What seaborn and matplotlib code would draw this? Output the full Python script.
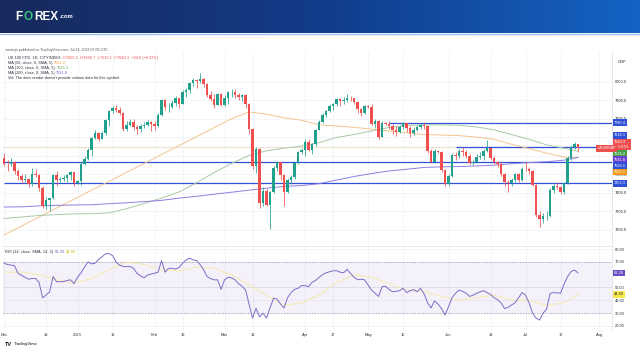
import numpy as np
import pandas as pd
import matplotlib
matplotlib.use("Agg")
import matplotlib.pyplot as plt
import matplotlib.transforms as mtransforms
from matplotlib.colors import LinearSegmentedColormap
import seaborn as sns

# ---- values: UK 100 CFD, daily candles ----
first_day = "2022-12-01"
skipped_days = ["2022-12-26", "2023-04-07", "2023-04-10"]

opens = [7590, 7558, 7556, 7567, 7521, 7489, 7472, 7476, 7446, 7503, 7495, 7426, 7332, 7361, 7370, 7497, 7469, 7473, 7480, 7497, 7512,
         7452, 7465, 7554, 7585, 7633, 7699, 7725, 7694, 7725, 7794, 7844, 7860, 7851, 7830, 7747, 7770, 7785, 7757, 7744, 7761, 7765, 7784,
         7771, 7761, 7820, 7902, 7864, 7865, 7885, 7911, 7882, 7947, 7954, 7997, 8012, 8004, 8014, 7990, 7930, 7907, 7878, 7935,
         7876, 7914, 7944, 7947, 7929, 7919, 7929, 7879, 7748, 7548, 7637, 7344, 7410, 7335, 7403, 7536, 7566, 7499, 7405, 7471, 7484, 7564, 7620,
         7632, 7673, 7634, 7663, 7742, 7786, 7824, 7843, 7871, 7879, 7909, 7898, 7902, 7914, 7912, 7891, 7852, 7831,
         7870, 7866, 7773, 7788, 7703, 7778, 7775, 7764, 7741, 7730, 7754, 7777, 7751, 7723, 7742, 7756, 7770, 7762, 7627, 7570, 7627, 7620, 7522,
         7446, 7490, 7607, 7600, 7628, 7624, 7599, 7562, 7570, 7594, 7602, 7628, 7642, 7588, 7569, 7559, 7502, 7461, 7453, 7470, 7500, 7472,
         7531, 7527, 7519, 7442, 7280, 7257, 7273, 7274, 7416, 7440, 7434, 7406, 7453, 7588, 7646, 7665.1]
highs = [7616, 7580, 7590, 7575, 7530, 7505, 7500, 7480, 7535, 7530, 7500, 7440, 7380, 7375, 7505, 7520, 7485, 7495, 7505, 7520, 7515,
         7470, 7565, 7600, 7645, 7705, 7740, 7730, 7735, 7800, 7850, 7870, 7875, 7865, 7835, 7790, 7800, 7800, 7765, 7775, 7785, 7795, 7790,
         7790, 7830, 7910, 7910, 7885, 7905, 7925, 7915, 7955, 7970, 8000, 8020, 8018, 8047, 8020, 7995, 7950, 7935, 7940, 7940,
         7930, 7950, 7960, 7960, 7940, 7935, 7935, 7885, 7750, 7650, 7645, 7430, 7420, 7410, 7545, 7575, 7570, 7505, 7480, 7495, 7570, 7625, 7645,
         7690, 7690, 7670, 7745, 7795, 7830, 7850, 7880, 7885, 7915, 7915, 7920, 7935, 7925, 7915, 7895, 7860, 7875,
         7875, 7880, 7800, 7795, 7790, 7785, 7790, 7775, 7760, 7765, 7785, 7780, 7760, 7755, 7770, 7780, 7785, 7765, 7640, 7640, 7632, 7625, 7530,
         7500, 7615, 7620, 7635, 7650, 7630, 7610, 7580, 7610, 7620, 7635, 7685, 7645, 7600, 7575, 7565, 7510, 7470, 7480, 7510, 7510, 7540,
         7565, 7540, 7525, 7450, 7300, 7290, 7300, 7425, 7450, 7460, 7440, 7460, 7600, 7660, 7675, 7666.7]
lows = [7545, 7520, 7545, 7505, 7470, 7455, 7460, 7430, 7440, 7485, 7410, 7320, 7315, 7300, 7365, 7440, 7455, 7465, 7460, 7470, 7440,
        7448, 7445, 7550, 7580, 7600, 7690, 7680, 7690, 7715, 7760, 7830, 7835, 7820, 7735, 7735, 7760, 7740, 7720, 7730, 7750, 7760, 7735,
        7740, 7755, 7815, 7850, 7835, 7860, 7870, 7860, 7880, 7920, 7940, 7980, 7970, 7995, 7975, 7920, 7895, 7860, 7875, 7870,
        7870, 7880, 7920, 7915, 7900, 7895, 7860, 7720, 7530, 7510, 7320, 7330, 7330, 7206, 7400, 7520, 7470, 7330, 7400, 7450, 7475, 7555, 7610,
        7600, 7625, 7610, 7655, 7740, 7780, 7810, 7835, 7850, 7870, 7870, 7880, 7890, 7895, 7880, 7830, 7815, 7825,
        7860, 7765, 7750, 7690, 7700, 7770, 7745, 7720, 7710, 7725, 7745, 7730, 7700, 7715, 7735, 7745, 7745, 7615, 7560, 7560, 7615, 7515, 7440,
        7435, 7485, 7580, 7590, 7600, 7590, 7555, 7550, 7560, 7585, 7580, 7620, 7580, 7555, 7540, 7490, 7440, 7405, 7440, 7460, 7460, 7465,
        7520, 7505, 7435, 7270, 7215, 7240, 7255, 7270, 7400, 7420, 7395, 7395, 7450, 7580, 7640, 7619.1]
closes = [7558, 7556, 7567, 7521, 7489, 7472, 7476, 7446, 7503, 7495, 7426, 7332, 7361, 7370, 7497, 7469, 7473, 7480, 7497, 7512, 7452,
          7465, 7554, 7585, 7633, 7699, 7725, 7694, 7725, 7794, 7844, 7860, 7851, 7830, 7747, 7770, 7785, 7757, 7744, 7761, 7765, 7784, 7771,
          7761, 7820, 7902, 7864, 7865, 7885, 7911, 7882, 7947, 7954, 7997, 8012, 8004, 8014, 7990, 7930, 7907, 7878, 7935, 7876,
          7914, 7944, 7947, 7929, 7919, 7929, 7879, 7748, 7548, 7637, 7344, 7410, 7335, 7403, 7536, 7566, 7499, 7405, 7471, 7484, 7564, 7620, 7632,
          7673, 7634, 7663, 7742, 7786, 7824, 7843, 7871, 7879, 7909, 7898, 7902, 7914, 7912, 7891, 7852, 7831, 7870,
          7866, 7773, 7788, 7703, 7778, 7775, 7764, 7741, 7730, 7754, 7777, 7751, 7723, 7742, 7756, 7770, 7762, 7627, 7570, 7627, 7620, 7522, 7446,
          7490, 7607, 7600, 7628, 7624, 7599, 7562, 7570, 7594, 7602, 7628, 7642, 7588, 7569, 7559, 7502, 7461, 7453, 7470, 7500, 7472, 7531,
          7527, 7519, 7442, 7280, 7257, 7273, 7274, 7416, 7440, 7434, 7406, 7453, 7588, 7646, 7664, 7640.3]

rsi = [69, 68, 67.5, 67, 61, 59.5, 58, 56.5, 57, 57, 54, 42, 44, 46.5, 58.5, 54.5, 54.5, 54.6, 55.5, 56, 53,
       58, 61.5, 66, 70, 68.5, 69, 72, 74, 76.5, 76.5, 75, 70, 67.5, 66.5, 66.3, 66.5, 65, 61, 59, 57.5, 59.8, 60.5,
       61.2, 62, 71, 62, 65, 65, 64.5, 65.5, 69, 71.5, 73, 71.6, 71.2, 68, 64, 58.5, 57, 56, 56, 48.6,
       56, 58, 57.5, 56, 53, 51, 48, 37, 26, 33.7, 27, 29.8, 26, 34, 41.5, 41, 37, 34, 42, 46, 48.5, 49.4, 51.5,
       51.5, 50.6, 54, 55.5, 58, 60, 61.5, 62.3, 63, 63.2, 62, 61.5, 64.2, 61, 58, 56, 56.5, 56,
       52, 48, 45.5, 43, 50.6, 51, 48.5, 46.7, 47, 47.5, 49.4, 46, 47.5, 48.3, 46.7, 49.4, 45, 38, 34, 39.5, 37, 33.5, 28.4,
       35, 42, 45.5, 48, 47, 45.5, 43, 44, 45.4, 46.5, 47.5, 46, 44.5, 42, 40.5, 38, 33.5, 34.5, 36.3, 38, 42, 46,
       44, 38, 30, 26, 24.5, 29.8, 33, 45.4, 46, 45.8, 45.5, 52.5, 58.5, 62.5, 63.7, 61.39]

# moving averages and the RSI average, read every fifth bar
ma_bars = list(range(0, 161, 5)) + [164]
ma50 = [7173, 7221, 7270, 7318, 7366, 7415, 7463, 7511, 7559, 7608, 7656, 7704, 7753, 7801, 7838, 7826, 7806,
        7793, 7768, 7762, 7755, 7745, 7735, 7725, 7716, 7713, 7710, 7702, 7690, 7663, 7640, 7615, 7594, 7592]
ma100 = [7262, 7270, 7278, 7283, 7287, 7288, 7292, 7315, 7343, 7372, 7405, 7455, 7510, 7560, 7603, 7628, 7642,
         7653, 7672, 7700, 7716, 7735, 7754, 7765, 7768, 7768, 7766, 7757, 7741, 7716, 7690, 7660, 7642, 7626]
ma200 = [7324, 7325, 7330, 7333, 7335, 7336, 7342, 7347, 7353, 7360, 7372, 7382, 7393, 7404, 7415, 7426, 7435,
         7440, 7450, 7470, 7489, 7505, 7519, 7528, 7538, 7541, 7543, 7546, 7550, 7558, 7564, 7569, 7577, 7592]
rsi_ma = [62, 62, 60, 56, 53.5, 57, 64, 70, 68, 64, 63, 66, 65, 60, 52, 44, 36,
          38, 44, 54, 60, 58, 53, 48, 47, 43, 40, 42, 44, 40, 40, 36, 38, 44.69]

# horizontal levels drawn on the chart
levels = [7780.4, 7648.1, 7566.5, 7452.3]
level_from = ["2023-05-09", "2023-06-05", "2022-12-01", "2022-12-01"]

tick_days = ["2022-12-01", "2022-12-19", "2023-01-02", "2023-01-16", "2023-02-01", "2023-02-13",
             "2023-03-01", "2023-03-13", "2023-04-03", "2023-04-17", "2023-05-01", "2023-05-15",
             "2023-06-01", "2023-06-19", "2023-07-03", "2023-07-17", "2023-08-01"]
tick_text = ["Dec", "19", "2023", "16", "Feb", "13", "Mar", "13", "Apr", "17", "May", "15",
             "Jun", "19", "Jul", "17", "Aug"]
price_ticks = [7200, 7300, 7400, 7500, 7600, 7700, 7800, 7900, 8000]
rsi_ticks = [20, 30, 40, 50, 70, 80]

# ---- style ----
sns.set_style("white")
plt.rcParams["font.family"] = ["Liberation Sans", "DejaVu Sans"]

GREEN = "#22a08e"
RED = "#ef4f4f"
BLUE = "#3050d8"
C50, C100, C200 = "#f3c58e", "#a9c7a6", "#8d7fe0"
GRID = "#f0f2f7"
TXT = "#2a2e39"

W, H = 640, 360
fig = plt.figure(figsize=(6.4, 3.6), dpi=100)


def fx(px):
    return px / W


def fy(py):
    return 1 - py / H


days = pd.bdate_range(first_day, "2023-08-10")
days = days[~days.isin(pd.to_datetime(skipped_days))]
pos = {d.strftime("%Y-%m-%d"): i for i, d in enumerate(days)}

# banner
bax = fig.add_axes([0, fy(33), 1, 33 / H])
cmap = LinearSegmentedColormap.from_list("fx", ["#18295c", "#123c8a", "#1463c4"])
bax.imshow(np.linspace(0, 1, 256)[None, :], aspect="auto", cmap=cmap, extent=[0, 1, 0, 1])
bax.axis("off")
fig.add_artist(plt.Line2D([0, 1], [fy(33.5)] * 2, color="#9dbdf0", lw=1.0))

# price panel
ax = fig.add_axes([fx(3), fy(244), fx(612) - fx(3), (244 - 52) / H])
rax = fig.add_axes([fx(3), fy(330), fx(612) - fx(3), (330 - 246) / H], sharex=ax)

x = np.arange(len(closes))
o, hi, lo, c = (np.array(v, float) for v in (opens, highs, lows, closes))
cols = np.where(c >= o, GREEN, RED)

tick_pos = [pos[d] for d in tick_days]
for a in (ax, rax):
    for s in a.spines.values():
        s.set_visible(False)
    a.set_xticks(tick_pos)
    a.grid(True, color=GRID, lw=0.6)
    a.set_axisbelow(True)
    a.tick_params(length=0, labelsize=2.9, colors=TXT, pad=2)
    a.yaxis.tick_right()
    a.spines["right"].set_visible(True)
    a.spines["right"].set_color("#e0e3eb")
    a.spines["right"].set_linewidth(0.6)

ax.set_xlim(-0.3, 173.7)
ax.set_ylim(7124, 8162)
ax.set_yticks(price_ticks)
ax.set_yticklabels([f"{v:.1f}" for v in price_ticks])
ax.tick_params(labelbottom=False)

# faint level and blue lines
ax.axhline(levels[1], color="#eee3cf", lw=0.8, zorder=1)
for lv, start in zip(levels, level_from):
    ax.hlines(lv, pos[start], 173.7, color=BLUE, lw=0.9, zorder=2)

sns.lineplot(x=ma_bars, y=ma50, ax=ax, color=C50, lw=0.7, zorder=3)
sns.lineplot(x=ma_bars, y=ma100, ax=ax, color=C100, lw=0.7, zorder=3)
sns.lineplot(x=ma_bars, y=ma200, ax=ax, color=C200, lw=0.7, zorder=3)

ax.vlines(x, lo, hi, colors=cols, lw=0.55, zorder=4)
ax.bar(x, np.maximum(np.abs(c - o), 2.0), bottom=np.minimum(o, c), width=0.64,
       color=cols, linewidth=0, zorder=5)
ax.set_xlabel("")
ax.set_ylabel("")

# RSI panel
rax.set_ylim(16.7, 82.5)
rax.axhspan(30, 70, color="#7e57c2", alpha=0.08, lw=0)
rax.axhline(70, color="#9598a1", lw=0.5, ls=(0, (2, 2)))
rax.axhline(30, color="#9598a1", lw=0.5, ls=(0, (2, 2)))
rax.axhline(50, color="#b2b5be", lw=0.4, ls=(0, (1, 2)))
sns.lineplot(x=ma_bars, y=rsi_ma, ax=rax, color="#f6e9a0", lw=0.9, alpha=0.7)
sns.lineplot(x=x, y=rsi, ax=rax, color="#7e6cc9", lw=0.7)
rax.set_yticks(rsi_ticks)
rax.set_yticklabels([f"{v:.2f}" for v in rsi_ticks])
rax.set_xticklabels(tick_text)
rax.set_xlabel("")
rax.set_ylabel("")
rax.spines["top"].set_visible(True)
rax.spines["top"].set_color("#e0e3eb")
rax.spines["top"].set_linewidth(0.6)
rax.grid(True, color=GRID, lw=0.6)

fig.canvas.draw()
rend = fig.canvas.get_renderer()


def text_row(x_px, y_px, parts):
    xx = x_px
    for s, col, size, weight in parts:
        t = fig.text(fx(xx), fy(y_px), s, color=col, fontsize=size, fontweight=weight,
                     va="center", ha="left")
        xx += t.get_window_extent(renderer=rend).width + 1.5


# logo and captions
text_row(15, 17, [("F", "white", 8.5, "heavy"), ("O", "#39c27a", 8.5, "heavy"),
                  ("REX", "white", 8.5, "heavy"), (".com", "white", 4.2, "bold")])
text_row(5, 50, [("vanierjs published on TradingView.com, Jul 24, 2023 07:05 UTC", "#50535e", 2.6, "normal")])
text_row(8, 58, [("UK 100 CFD, 1D, CITYINDEX:", TXT, 2.8, "normal"),
                 ("O7665.1  H7666.7  L7619.1  C7640.3  \u221224.8 (\u22120.32%)", RED, 2.8, "normal")])
text_row(8, 63, [("MA (50, close, 0, SMA, 5)", TXT, 2.8, "normal"), ("7552.3", "#f59d2a", 2.8, "normal")])
text_row(8, 68, [("MA (100, close, 0, SMA, 5)", TXT, 2.8, "normal"), ("7626.2", "#5aa55f", 2.8, "normal")])
text_row(8, 73, [("MA (200, close, 0, SMA, 5)", TXT, 2.8, "normal"), ("7591.8", "#7b61d6", 2.8, "normal")])
text_row(8, 78, [("Vol: The data vendor doesn't provide volume data for this symbol.", TXT, 2.8, "normal")])
text_row(5, 252, [("RSI (14, close, SMA, 14, 2)", TXT, 2.8, "normal"), ("61.39", "#7e57c2", 2.8, "normal"),
                  ("44.69", "#c9b400", 2.8, "normal")])
text_row(5, 344, [("TV", "#131722", 4.0, "heavy"), ("TradingView", "#131722", 3.2, "normal")])
fig.text(fx(622), fy(62), "GBP", fontsize=2.9, color=TXT, ha="center", va="center")

# price scale tags, stacked so they don't overlap
tags = [("7780.4", 7780.4, BLUE, "white", 1), ("7648.1", 7648.1, BLUE, "white", 1),
        ("7640.3\n15:54:53", 7640.3, RED, "white", 2), ("7626.2", 7626.2, "#43a047", "white", 1),
        ("7591.8", 7591.8, "#6a3fd0", "white", 1), ("7566.5", 7566.5, BLUE, "white", 1),
        ("7552.3", 7552.3, "#f39a1e", "white", 1), ("7452.3", 7452.3, BLUE, "white", 1)]
gap = 33.0
vals = np.array([t[1] for t in tags])
hgt = np.array([t[4] for t in tags], float)
order = np.argsort(-vals)
p = vals[order].copy()
hh = hgt[order]
for _ in range(300):
    for k in range(1, len(p)):
        need = (hh[k - 1] + hh[k]) / 2 * gap
        d = p[k - 1] - p[k]
        if d < need:
            p[k - 1] += (need - d) / 2
            p[k] -= (need - d) / 2
ypos = np.empty_like(p)
ypos[order] = p

trans = mtransforms.blended_transform_factory(fig.transFigure, ax.transData)
for (s, v, fc, tc, _), yv in zip(tags, ypos):
    ax.text(fx(614), yv, s, transform=trans, fontsize=2.8, color=tc, va="center", ha="left",
            linespacing=1.3, clip_on=False, zorder=10,
            bbox=dict(boxstyle="square,pad=0.35", fc=fc, ec="none"))
ax.text(pos["2023-07-31"] + 0.5, 7640.3, "UK100GBP", fontsize=2.6, color="white", va="center",
        ha="left", zorder=10, bbox=dict(boxstyle="square,pad=0.35", fc=RED, ec="none"))

rtrans = mtransforms.blended_transform_factory(fig.transFigure, rax.transData)
rax.text(fx(614), rsi[-1], f"{rsi[-1]:.2f}", transform=rtrans, fontsize=2.8, color="white",
         va="center", ha="left", clip_on=False, zorder=10,
         bbox=dict(boxstyle="square,pad=0.35", fc="#6a4fc4", ec="none"))
rax.text(fx(614), rsi_ma[-1], f"{rsi_ma[-1]:.2f}", transform=rtrans, fontsize=2.8, color=TXT,
         va="center", ha="left", clip_on=False, zorder=10,
         bbox=dict(boxstyle="square,pad=0.35", fc="#f7e84a", ec="none"))

fig.savefig("out.png", dpi=100, facecolor="white")
